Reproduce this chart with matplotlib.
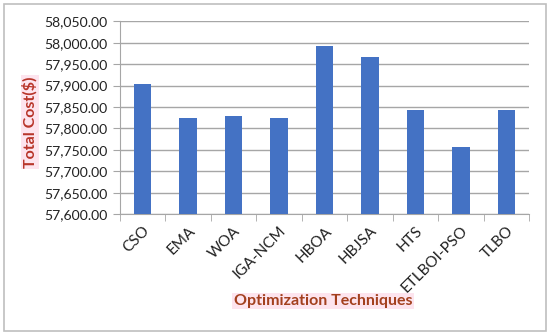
import matplotlib
matplotlib.use("Agg")
import matplotlib.pyplot as plt
from matplotlib.ticker import FuncFormatter, MultipleLocator
from matplotlib.patches import Rectangle

categories = ["CSO", "EMA", "WOA", "IGA-NCM", "HBOA", "HBJSA", "HTS", "ETLBOI-PSO", "TLBO"]
values = [57905, 57824, 57830, 57824, 57993, 57967, 57842, 57757, 57842]

plt.rcParams['font.family'] = ['Lato', 'DejaVu Sans']

fig = plt.figure(figsize=(5.5, 3.35), dpi=100)
fig.patch.set_facecolor('white')
fig.patches.append(Rectangle((0.008, 0.012), 0.984, 0.976, transform=fig.transFigure,
                             fill=False, edgecolor='#BFBFBF', linewidth=1.2))
ax = fig.add_axes([0.218, 0.361, 0.744, 0.575])

x = list(range(len(categories)))
ax.bar(x, values, width=0.38, color='#4472C4', zorder=3)
ax.set_xlim(-0.5, len(categories) - 0.5)
ax.set_ylim(57600, 58050)
ax.yaxis.set_major_locator(MultipleLocator(50))
ax.yaxis.set_major_formatter(FuncFormatter(lambda v, p: f"{v:,.2f}"))
ax.grid(axis='y', color='#A6A6A6', linewidth=1, zorder=0)

for s in ['top', 'right']:
    ax.spines[s].set_visible(False)
for s in ['left', 'bottom']:
    ax.spines[s].set_color('#A6A6A6')

ax.set_xticks(x)
ax.set_xticklabels(categories, rotation=45, ha='right', rotation_mode='anchor', fontsize=11)
ax.tick_params(axis='x', length=0, pad=7)
ax.set_xticks([i - 0.5 for i in range(len(categories) + 1)], minor=True)
ax.tick_params(axis='x', which='minor', length=5, color='#A6A6A6')
ax.tick_params(axis='y', length=5, color='#A6A6A6', labelsize=10.1, pad=4, labelcolor='#222222')
ax.tick_params(axis='x', labelcolor='#222222')

fig.text(30 / 550, 1 - 122 / 335, "Total Cost($)", rotation=90, ha='center', va='center',
         color='#B8352A', fontweight='bold', fontsize=11.5,
         bbox=dict(facecolor='#FDE4EE', edgecolor='none', pad=1))
fig.text(323 / 550, 1 - 301 / 335, "Optimization Techniques", ha='center', va='center',
         color='#A3401E', fontweight='bold', fontsize=11.5,
         bbox=dict(facecolor='#FDE4EE', edgecolor='none', pad=1))

fig.savefig("out.png", dpi=100)
